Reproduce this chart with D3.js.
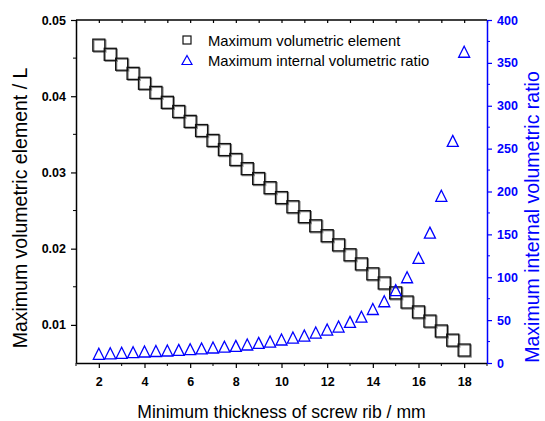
<!DOCTYPE html>
<html>
<head>
<meta charset="utf-8">
<script src="https://cdn.jsdelivr.net/npm/d3@7"></script>
<style>
  body { margin: 0; background: #fff; }
  svg { display: block; font-family: Arial, "Liberation Sans", sans-serif; }
  .tick-label { font-weight: bold; font-size: 12.5px; }
</style>
</head>
<body>
<div id="chart"></div>
<script>
// rib thickness (mm)
const thickness = [2, 2.5, 3, 3.5, 4, 4.5, 5, 5.5, 6, 6.5, 7, 7.5, 8, 8.5, 9, 9.5, 10,
    10.5, 11, 11.5, 12, 12.5, 13, 13.5, 14, 14.5, 15, 15.5, 16, 16.5, 17, 17.5, 18];
// maximum volumetric element (L)
const volElement = [0.0467, 0.0455, 0.0442, 0.0430, 0.0417, 0.0405, 0.0392, 0.0380, 0.0367,
    0.0355, 0.0342, 0.0330, 0.0317, 0.0305, 0.0292, 0.0280, 0.0267, 0.0255, 0.0242, 0.0230,
    0.0217, 0.0205, 0.0192, 0.0180, 0.0167, 0.0155, 0.0142, 0.0130, 0.0117, 0.0105, 0.0092,
    0.0080, 0.0067];
// maximum internal volumetric ratio
const volRatio = [10.7, 11.3, 11.9, 12.6, 13.4, 14, 14.6, 15.3, 16.1, 17, 18.1, 19, 20, 21.6,
    23.5, 25, 27.4, 29.7, 32, 35.5, 39, 42.5, 48, 54, 63, 72, 85, 100, 122.5, 152, 195, 259, 363];

const xTicks = [2, 4, 6, 8, 10, 12, 14, 16, 18];
const yLeftTicks = [0.01, 0.02, 0.03, 0.04, 0.05];
const yRightTicks = [0, 50, 100, 150, 200, 250, 300, 350, 400];
const legendLabels = ['Maximum volumetric element', 'Maximum internal volumetric ratio'];

const W = 545, H = 421;
const margin = { top: 20, right: 58, bottom: 58, left: 76 };
const width = W - margin.left - margin.right;
const height = H - margin.top - margin.bottom;
const blue = '#0000ff';

const svg = d3.select('#chart').append('svg')
    .attr('width', W)
    .attr('height', H);

const g = svg.append('g')
    .attr('transform', `translate(${margin.left},${margin.top})`);

const x = d3.scaleLinear().domain([1, 19]).range([0, width]);
const yL = d3.scaleLinear().domain([0.005, 0.05]).range([height, 0]);
const yR = d3.scaleLinear().domain([0, 400]).range([height, 0]);

const minorX = d3.range(1, 20, 2);
const minorYL = [0.015, 0.025, 0.035, 0.045];
const minorYR = d3.range(25, 400, 50);

// bottom axis
const xAxis = g.append('g')
    .attr('transform', `translate(0,${height})`)
    .call(d3.axisBottom(x).tickValues(xTicks).tickSize(5).tickPadding(9).tickSizeOuter(0));
xAxis.append('g').selectAll('line')
    .data(minorX).enter().append('line')
    .attr('x1', d => x(d)).attr('x2', d => x(d))
    .attr('y1', 0).attr('y2', 3)
    .attr('stroke', '#000');

// top axis, inward ticks
const topAxis = g.append('g')
    .call(d3.axisBottom(x).tickValues(d3.range(1, 20)).tickSize(3).tickFormat('').tickSizeOuter(0));

// left axis
const yAxisL = g.append('g')
    .call(d3.axisLeft(yL).tickValues(yLeftTicks).tickFormat(d3.format('.2f'))
        .tickSize(5).tickPadding(5).tickSizeOuter(0));
yAxisL.append('g').selectAll('line')
    .data(minorYL).enter().append('line')
    .attr('y1', d => yL(d)).attr('y2', d => yL(d))
    .attr('x1', 0).attr('x2', -3)
    .attr('stroke', '#000');

// right axis
const yAxisR = g.append('g')
    .attr('transform', `translate(${width},0)`)
    .call(d3.axisRight(yR).tickValues(yRightTicks).tickSize(5).tickPadding(5).tickSizeOuter(0));
yAxisR.append('g').selectAll('line')
    .data(minorYR).enter().append('line')
    .attr('y1', d => yR(d)).attr('y2', d => yR(d))
    .attr('x1', 0).attr('x2', 3)
    .attr('stroke', blue);

[xAxis, topAxis, yAxisL, yAxisR].forEach(a => {
    a.selectAll('.domain').attr('stroke-width', 1.5);
    a.selectAll('.tick line').attr('stroke-width', 1.2);
    a.selectAll('text').attr('class', 'tick-label').attr('font-family', null).attr('font-size', null);
});
topAxis.select('.domain').remove();
g.append('line')
    .attr('x1', 0).attr('x2', width).attr('y1', 0).attr('y2', 0)
    .attr('stroke', '#000').attr('stroke-width', 1.5);
yAxisR.selectAll('.domain, line').attr('stroke', blue);
yAxisR.selectAll('text').attr('fill', blue);

// squares (shadowed, like the original)
const sq = 12;
const pts = thickness.map((t, i) => ({ t, v: volElement[i], r: volRatio[i] }));

g.selectAll('.sq-shadow')
    .data(pts).enter().append('rect')
    .attr('x', d => x(d.t) - sq / 2 + 1)
    .attr('y', d => yL(d.v) - sq / 2 + 1)
    .attr('width', sq).attr('height', sq)
    .attr('fill', 'none').attr('stroke', '#888').attr('stroke-width', 1.3);

g.selectAll('.sq')
    .data(pts).enter().append('rect')
    .attr('x', d => x(d.t) - sq / 2)
    .attr('y', d => yL(d.v) - sq / 2)
    .attr('width', sq).attr('height', sq)
    .attr('fill', 'none').attr('stroke', '#111').attr('stroke-width', 1.3);

// triangles
const tri = (cx, cy, w, h) =>
    `M${cx},${cy - h / 2}L${cx + w / 2},${cy + h / 2}L${cx - w / 2},${cy + h / 2}Z`;

g.selectAll('.tri')
    .data(pts).enter().append('path')
    .attr('d', d => tri(x(d.t), yR(d.r), 11, 11))
    .attr('fill', 'none').attr('stroke', blue).attr('stroke-width', 1.3);

// legend
const legend = svg.append('g').attr('transform', 'translate(187,40)');
legend.append('rect')
    .attr('x', -4).attr('y', -4).attr('width', 8).attr('height', 8)
    .attr('fill', 'none').attr('stroke', '#111').attr('stroke-width', 1.2);
legend.append('path')
    .attr('d', tri(0, 20, 10, 9))
    .attr('fill', 'none').attr('stroke', blue).attr('stroke-width', 1.2);
legend.selectAll('text')
    .data(legendLabels).enter().append('text')
    .attr('x', 21)
    .attr('y', (d, i) => i * 20 + 5.5)
    .style('font-size', '14.8px')
    .text(d => d);

// axis titles
svg.append('text')
    .attr('x', margin.left + width / 2)
    .attr('y', 418)
    .attr('text-anchor', 'middle')
    .style('font-size', '17.6px')
    .text('Minimum thickness of screw rib / mm');

svg.append('text')
    .attr('transform', 'translate(27,208) rotate(-90)')
    .attr('text-anchor', 'middle')
    .style('font-size', '19.5px')
    .text('Maximum volumetric element / L');

svg.append('text')
    .attr('transform', 'translate(539,217) rotate(-90)')
    .attr('text-anchor', 'middle')
    .attr('fill', blue)
    .style('font-size', '19.5px')
    .text('Maximum internal volumetric ratio');
</script>
</body>
</html>
